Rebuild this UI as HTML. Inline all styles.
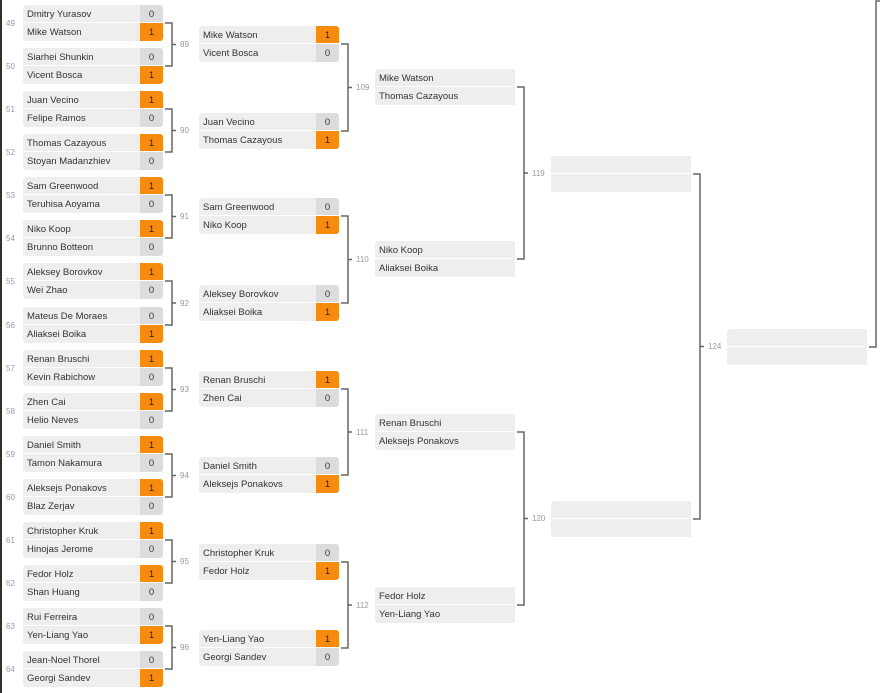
<!DOCTYPE html>
<html><head><meta charset="utf-8"><style>
body{margin:0;width:889px;height:693px;background:#fff;position:relative;overflow:hidden;font-family:"Liberation Sans",Arial,sans-serif;font-size:9.5px;color:#333}
.m{position:absolute;width:140px}
.r{height:18px;display:flex;border-bottom:1px solid #fff;box-sizing:border-box}
.n{flex:1;background:#eee;padding-left:4px;line-height:19px;white-space:nowrap;overflow:hidden}
.s{width:23px;text-align:center;line-height:19px;background:#dcdcdc}
.w{background:#f68b0f;color:#222}
.r:first-child .s{border-top-right-radius:3px}
.r:last-child .s{border-bottom-right-radius:3px}
.r:first-child .n{border-top-left-radius:3px}
.r:last-child .n{border-bottom-left-radius:3px}
.r:last-child{border-bottom:none}
.l{position:absolute;font-size:8px;color:#999}
.c1{left:23px}.c2{left:199px}.c3{left:375px}.c4{left:551px}.c5{left:727px}
</style></head><body>
<div style="position:absolute;left:0;top:0;width:2px;height:693px;background:#3a2e22"></div>
<svg width="889" height="693" style="position:absolute;left:0;top:0" fill="none" stroke="#666" stroke-width="1.5">
<path d="M165 23H172V66H165M172 44.5H176M165 109H172V152H165M172 130.5H176M165 195H172V238H165M172 216.5H176M165 281H172V325H165M172 303H176M165 368H172V411H165M172 389.5H176M165 454H172V497H165M172 475.5H176M165 540H172V583H165M172 561.5H176M165 626H172V669H165M172 647.5H176"/>
<path d="M341 44H348V131H341M348 87.5H352M341 216H348V303H341M348 259.5H352M341 389H348V475H341M348 432H352M341 562H348V648H341M348 605H352"/>
<path d="M517 87H524V259H517M524 173H528M517 432H524V605H517M524 518.5H528"/>
<path d="M693 174H700V519H693M700 346.5H704"/>
<path d="M869 347H876V1H880"/>
</svg>
<div class="l" style="left:6px;top:19px">49</div><div class="l" style="left:6px;top:62px">50</div>
<div class="l" style="left:6px;top:105px">51</div><div class="l" style="left:6px;top:148px">52</div>
<div class="l" style="left:6px;top:191px">53</div><div class="l" style="left:6px;top:234px">54</div>
<div class="l" style="left:6px;top:277px">55</div><div class="l" style="left:6px;top:321px">56</div>
<div class="l" style="left:6px;top:364px">57</div><div class="l" style="left:6px;top:407px">58</div>
<div class="l" style="left:6px;top:450px">59</div><div class="l" style="left:6px;top:493px">60</div>
<div class="l" style="left:6px;top:536px">61</div><div class="l" style="left:6px;top:579px">62</div>
<div class="l" style="left:6px;top:622px">63</div><div class="l" style="left:6px;top:665px">64</div>
<div class="l" style="left:180px;top:40px">89</div><div class="l" style="left:180px;top:126px">90</div>
<div class="l" style="left:180px;top:212px">91</div><div class="l" style="left:180px;top:299px">92</div>
<div class="l" style="left:180px;top:385px">93</div><div class="l" style="left:180px;top:471px">94</div>
<div class="l" style="left:180px;top:557px">95</div><div class="l" style="left:180px;top:643px">96</div>
<div class="l" style="left:356px;top:83px">109</div><div class="l" style="left:356px;top:255px">110</div>
<div class="l" style="left:356px;top:428px">111</div><div class="l" style="left:356px;top:601px">112</div>
<div class="l" style="left:532px;top:169px">119</div><div class="l" style="left:532px;top:514px">120</div>
<div class="l" style="left:708px;top:342px">124</div>

<div class="m c1" style="top:5px"><div class="r"><span class="n">Dmitry Yurasov</span><span class="s">0</span></div><div class="r"><span class="n">Mike Watson</span><span class="s w">1</span></div></div>
<div class="m c1" style="top:48px"><div class="r"><span class="n">Siarhei Shunkin</span><span class="s">0</span></div><div class="r"><span class="n">Vicent Bosca</span><span class="s w">1</span></div></div>
<div class="m c1" style="top:91px"><div class="r"><span class="n">Juan Vecino</span><span class="s w">1</span></div><div class="r"><span class="n">Felipe Ramos</span><span class="s">0</span></div></div>
<div class="m c1" style="top:134px"><div class="r"><span class="n">Thomas Cazayous</span><span class="s w">1</span></div><div class="r"><span class="n">Stoyan Madanzhiev</span><span class="s">0</span></div></div>
<div class="m c1" style="top:177px"><div class="r"><span class="n">Sam Greenwood</span><span class="s w">1</span></div><div class="r"><span class="n">Teruhisa Aoyama</span><span class="s">0</span></div></div>
<div class="m c1" style="top:220px"><div class="r"><span class="n">Niko Koop</span><span class="s w">1</span></div><div class="r"><span class="n">Brunno Botteon</span><span class="s">0</span></div></div>
<div class="m c1" style="top:263px"><div class="r"><span class="n">Aleksey Borovkov</span><span class="s w">1</span></div><div class="r"><span class="n">Wei Zhao</span><span class="s">0</span></div></div>
<div class="m c1" style="top:307px"><div class="r"><span class="n">Mateus De Moraes</span><span class="s">0</span></div><div class="r"><span class="n">Aliaksei Boika</span><span class="s w">1</span></div></div>
<div class="m c1" style="top:350px"><div class="r"><span class="n">Renan Bruschi</span><span class="s w">1</span></div><div class="r"><span class="n">Kevin Rabichow</span><span class="s">0</span></div></div>
<div class="m c1" style="top:393px"><div class="r"><span class="n">Zhen Cai</span><span class="s w">1</span></div><div class="r"><span class="n">Helio Neves</span><span class="s">0</span></div></div>
<div class="m c1" style="top:436px"><div class="r"><span class="n">Daniel Smith</span><span class="s w">1</span></div><div class="r"><span class="n">Tamon Nakamura</span><span class="s">0</span></div></div>
<div class="m c1" style="top:479px"><div class="r"><span class="n">Aleksejs Ponakovs</span><span class="s w">1</span></div><div class="r"><span class="n">Blaz Zerjav</span><span class="s">0</span></div></div>
<div class="m c1" style="top:522px"><div class="r"><span class="n">Christopher Kruk</span><span class="s w">1</span></div><div class="r"><span class="n">Hinojas Jerome</span><span class="s">0</span></div></div>
<div class="m c1" style="top:565px"><div class="r"><span class="n">Fedor Holz</span><span class="s w">1</span></div><div class="r"><span class="n">Shan Huang</span><span class="s">0</span></div></div>
<div class="m c1" style="top:608px"><div class="r"><span class="n">Rui Ferreira</span><span class="s">0</span></div><div class="r"><span class="n">Yen-Liang Yao</span><span class="s w">1</span></div></div>
<div class="m c1" style="top:651px"><div class="r"><span class="n">Jean-Noel Thorel</span><span class="s">0</span></div><div class="r"><span class="n">Georgi Sandev</span><span class="s w">1</span></div></div>

<div class="m c2" style="top:26px"><div class="r"><span class="n">Mike Watson</span><span class="s w">1</span></div><div class="r"><span class="n">Vicent Bosca</span><span class="s">0</span></div></div>
<div class="m c2" style="top:113px"><div class="r"><span class="n">Juan Vecino</span><span class="s">0</span></div><div class="r"><span class="n">Thomas Cazayous</span><span class="s w">1</span></div></div>
<div class="m c2" style="top:198px"><div class="r"><span class="n">Sam Greenwood</span><span class="s">0</span></div><div class="r"><span class="n">Niko Koop</span><span class="s w">1</span></div></div>
<div class="m c2" style="top:285px"><div class="r"><span class="n">Aleksey Borovkov</span><span class="s">0</span></div><div class="r"><span class="n">Aliaksei Boika</span><span class="s w">1</span></div></div>
<div class="m c2" style="top:371px"><div class="r"><span class="n">Renan Bruschi</span><span class="s w">1</span></div><div class="r"><span class="n">Zhen Cai</span><span class="s">0</span></div></div>
<div class="m c2" style="top:457px"><div class="r"><span class="n">Daniel Smith</span><span class="s">0</span></div><div class="r"><span class="n">Aleksejs Ponakovs</span><span class="s w">1</span></div></div>
<div class="m c2" style="top:544px"><div class="r"><span class="n">Christopher Kruk</span><span class="s">0</span></div><div class="r"><span class="n">Fedor Holz</span><span class="s w">1</span></div></div>
<div class="m c2" style="top:630px"><div class="r"><span class="n">Yen-Liang Yao</span><span class="s w">1</span></div><div class="r"><span class="n">Georgi Sandev</span><span class="s">0</span></div></div>

<div class="m c3" style="top:69px"><div class="r"><span class="n">Mike Watson</span></div><div class="r"><span class="n">Thomas Cazayous</span></div></div>
<div class="m c3" style="top:241px"><div class="r"><span class="n">Niko Koop</span></div><div class="r"><span class="n">Aliaksei Boika</span></div></div>
<div class="m c3" style="top:414px"><div class="r"><span class="n">Renan Bruschi</span></div><div class="r"><span class="n">Aleksejs Ponakovs</span></div></div>
<div class="m c3" style="top:587px"><div class="r"><span class="n">Fedor Holz</span></div><div class="r"><span class="n">Yen-Liang Yao</span></div></div>

<div class="m c4" style="top:156px"><div class="r"><span class="n"></span></div><div class="r"><span class="n"></span></div></div>
<div class="m c4" style="top:501px"><div class="r"><span class="n"></span></div><div class="r"><span class="n"></span></div></div>
<div class="m c5" style="top:329px"><div class="r"><span class="n"></span></div><div class="r"><span class="n"></span></div></div>
</body></html>
